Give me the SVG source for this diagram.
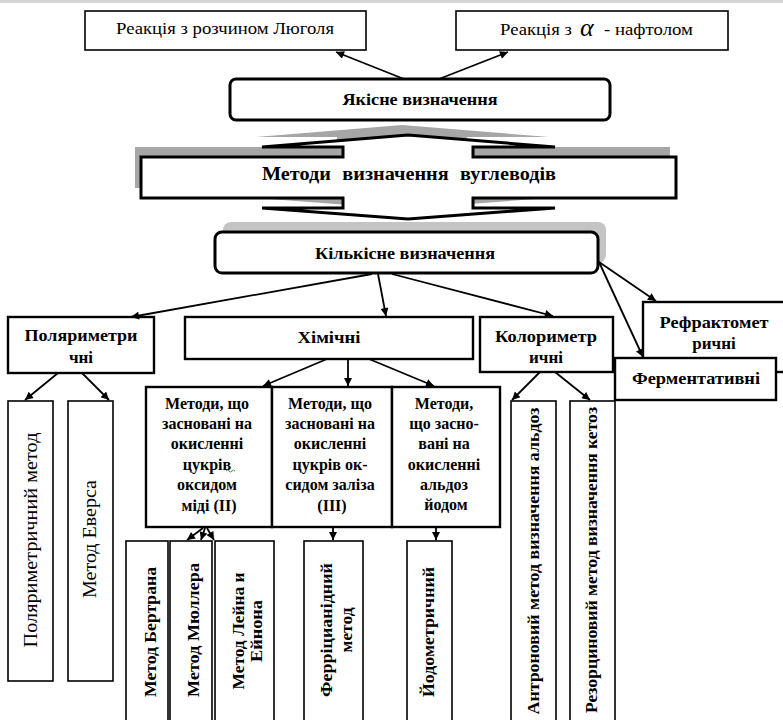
<svg xmlns="http://www.w3.org/2000/svg" width="783" height="720" viewBox="0 0 783 720" font-family="'Liberation Serif', 'DejaVu Serif', serif">
<defs>
<marker id="ah" viewBox="0 0 10 10" refX="10" refY="5" markerWidth="10" markerHeight="8" markerUnits="userSpaceOnUse" orient="auto"><path d="M0,0 L10,5 L0,10 z" fill="#000"/></marker>
<style>
text{font-family:'Liberation Serif','DejaVu Serif',serif;fill:#000}
.b{font-weight:bold}
.box{fill:#fff;stroke:#000;stroke-width:1.6}
.box2{fill:#fff;stroke:#000;stroke-width:2.4}
.c{stroke:#000;stroke-width:1.8;fill:none;marker-end:url(#ah)}
</style>
</defs>
<rect x="0" y="0" width="783" height="720" fill="#fff"/>
<rect x="0" y="0" width="783" height="3" fill="#d4d4d4"/>

<g id="n-lugol">
<rect class="box" x="85" y="11" width="281" height="39"/>
<text x="225" y="34" font-size="17" text-anchor="middle" textLength="218" lengthAdjust="spacingAndGlyphs">Реакція з розчином Люголя</text>
</g>
<g id="n-naphthol">
<rect class="box" x="456" y="11" width="272" height="39"/>
<text x="500" y="35" font-size="16" textLength="72" lengthAdjust="spacingAndGlyphs">Реакція з</text>
<text x="580" y="36" font-size="26" font-style="italic">α</text>
<text x="604" y="35" font-size="16" textLength="89" lengthAdjust="spacingAndGlyphs">- нафтолом</text>
</g>
<g id="n-qual">
<rect x="230" y="79" width="380" height="41" rx="6" fill="#fff" stroke="#000" stroke-width="3"/>
<text class="b" x="420" y="105" font-size="16" text-anchor="middle" textLength="155" lengthAdjust="spacingAndGlyphs">Якісне визначення</text>
</g>
<g id="n-methods">
<path transform="translate(-6,-10)" fill="#a6a6a6" d="M141,157 L343,157 L343,147 L262,147 L408,135 L555,147 L473,147 L473,157 L676,157 L676,198 L473,198 L473,208 L555,208 L408,219 L262,208 L343,208 L343,198 L141,198 Z"/>
<path fill="#fff" stroke="#000" stroke-width="3" stroke-linejoin="miter" d="M141,157 L343,157 L343,147 L262,147 L408,135 L555,147 L473,147 L473,157 L676,157 L676,198 L473,198 L473,208 L555,208 L408,219 L262,208 L343,208 L343,198 L141,198 Z"/>
<text class="b" x="409" y="180" font-size="19" text-anchor="middle" textLength="294" lengthAdjust="spacingAndGlyphs" word-spacing="6">Методи визначення вуглеводів</text>
</g>
<g id="n-quant">
<rect x="223" y="222" width="383" height="41" rx="8" fill="#c4c4c4"/>
<rect x="215" y="232" width="383" height="41" rx="7" fill="#fff" stroke="#000" stroke-width="3"/>
<text class="b" x="405" y="259" font-size="16" text-anchor="middle" textLength="180" lengthAdjust="spacingAndGlyphs">Кількісне визначення</text>
</g>
<g id="n-polar">
<rect class="box2" x="8" y="317" width="146" height="56"/>
<text class="b" x="81" y="341" font-size="17" text-anchor="middle" textLength="113" lengthAdjust="spacingAndGlyphs">Поляриметри</text>
<text class="b" x="81" y="363" font-size="17" text-anchor="middle">чні</text>
</g>
<g id="n-chem">
<rect class="box2" x="185" y="317" width="288" height="42"/>
<text class="b" x="329" y="343" font-size="17" text-anchor="middle" textLength="63" lengthAdjust="spacingAndGlyphs">Хімічні</text>
</g>
<g id="n-color">
<rect class="box2" x="480" y="317" width="133" height="55"/>
<text class="b" x="546" y="342" font-size="17" text-anchor="middle" textLength="102" lengthAdjust="spacingAndGlyphs">Колориметр</text>
<text class="b" x="546" y="363" font-size="17" text-anchor="middle">ичні</text>
</g>
<g id="n-refr">
<rect class="box2" x="643" y="302" width="145" height="70"/>
<text class="b" x="714" y="328" font-size="17" text-anchor="middle" textLength="109" lengthAdjust="spacingAndGlyphs">Рефрактомет</text>
<text class="b" x="714" y="349" font-size="17" text-anchor="middle">ричні</text>
</g>
<g id="n-ferm">
<rect class="box2" x="615" y="358" width="161" height="42"/>
<text class="b" x="696" y="384" font-size="17" text-anchor="middle" textLength="128" lengthAdjust="spacingAndGlyphs">Ферментативні</text>
</g>

<g id="n-cu">
<rect class="box2" x="146" y="387" width="126" height="140"/>
<text class="b" font-size="16" text-anchor="middle">
<tspan x="209" y="409">Методи, що</tspan>
<tspan x="209" y="429">засновані на</tspan>
<tspan x="209" y="449">окисленні</tspan>
<tspan x="209" y="470">цукрів</tspan>
<tspan x="209" y="490">оксидом</tspan>
<tspan x="209" y="511">міді (ІІ)</tspan>
</text>
<path d="M226,471 q1.5,-2 3,0 t3,0 t3,0" fill="none" stroke="#3a9a3a" stroke-width="1"/>
</g>
<g id="n-fe">
<rect class="box2" x="272" y="387" width="120" height="140"/>
<text class="b" font-size="16" text-anchor="middle">
<tspan x="332" y="409">Методи, що</tspan>
<tspan x="332" y="429">засновані на</tspan>
<tspan x="332" y="449">окисленні</tspan>
<tspan x="332" y="470">цукрів ок-</tspan>
<tspan x="332" y="490">сидом заліза</tspan>
<tspan x="332" y="511">(ІІІ)</tspan>
</text>
</g>
<g id="n-iod">
<rect class="box2" x="392" y="387" width="108" height="140"/>
<text class="b" font-size="16" text-anchor="middle">
<tspan x="446" y="409">Методи,</tspan>
<tspan x="446" y="429">що засно-</tspan>
<tspan x="446" y="449">вані на</tspan>
<tspan x="446" y="470">окисленні</tspan>
<tspan x="446" y="490">альдоз</tspan>
<tspan x="446" y="510">йодом</tspan>
</text>
</g>

<g id="n-polmethod">
<rect class="box" x="8" y="401" width="45" height="280"/>
<text font-size="19" text-anchor="middle" transform="translate(37,540) rotate(-90)" textLength="215" lengthAdjust="spacingAndGlyphs">Поляриметричний метод</text>
</g>
<g id="n-evers">
<rect class="box" x="68" y="401" width="45" height="280"/>
<text font-size="19" text-anchor="middle" transform="translate(96,539) rotate(-90)" textLength="118" lengthAdjust="spacingAndGlyphs">Метод Еверса</text>
</g>
<g id="n-bertran">
<rect class="box" x="126" y="541" width="42" height="185"/>
<text class="b" font-size="16" text-anchor="middle" transform="translate(156,632) rotate(-90)" textLength="130" lengthAdjust="spacingAndGlyphs">Метод Бертрана</text>
</g>
<g id="n-muller">
<rect class="box" x="170" y="541" width="42" height="185"/>
<text class="b" font-size="16" text-anchor="middle" transform="translate(199,630) rotate(-90)" textLength="134" lengthAdjust="spacingAndGlyphs">Метод  Мюллера</text>
</g>
<g id="n-lane">
<rect class="box" x="215" y="541" width="59" height="185"/>
<text class="b" font-size="16" text-anchor="middle" transform="translate(244,631) rotate(-90)" textLength="117" lengthAdjust="spacingAndGlyphs">Метод Лейна и</text>
<text class="b" font-size="16" text-anchor="middle" transform="translate(262,631) rotate(-90)" textLength="62" lengthAdjust="spacingAndGlyphs">Ейнона</text>
</g>
<g id="n-ferricyan">
<rect class="box" x="304" y="541" width="59" height="185"/>
<text class="b" font-size="16" text-anchor="middle" transform="translate(332,630) rotate(-90)" textLength="134" lengthAdjust="spacingAndGlyphs">Ферріцианідний</text>
<text class="b" font-size="16" text-anchor="middle" transform="translate(352,630) rotate(-90)" textLength="45" lengthAdjust="spacingAndGlyphs">метод</text>
</g>
<g id="n-iodometric">
<rect class="box" x="407" y="541" width="45" height="185"/>
<text class="b" font-size="16" text-anchor="middle" transform="translate(434,632) rotate(-90)" textLength="130" lengthAdjust="spacingAndGlyphs">Йодометричний</text>
</g>
<g id="n-anthrone">
<rect class="box" x="511" y="401" width="45" height="325"/>
<text class="b" font-size="16" text-anchor="middle" transform="translate(539,561) rotate(-90)" textLength="307" lengthAdjust="spacingAndGlyphs">Антроновий метод визначення альдоз</text>
</g>
<g id="n-resorcin">
<rect class="box" x="570" y="401" width="45" height="325"/>
<text class="b" font-size="16" text-anchor="middle" transform="translate(597,560) rotate(-90)" textLength="306" lengthAdjust="spacingAndGlyphs">Резорциновий метод визначення кетоз</text>
</g>

<g id="connectors">
<line class="c" x1="404" y1="79" x2="336" y2="52"/>
<line class="c" x1="439" y1="79" x2="508" y2="52"/>
<line class="c" x1="372" y1="274" x2="131" y2="317"/>
<line class="c" x1="378" y1="274" x2="386" y2="316"/>
<line class="c" x1="392" y1="274" x2="553" y2="316"/>
<line class="c" x1="599" y1="262" x2="656" y2="301"/>
<line class="c" x1="599" y1="262" x2="643" y2="357"/>
<line class="c" x1="58" y1="373" x2="25" y2="400"/>
<line class="c" x1="82" y1="373" x2="109" y2="400"/>
<line class="c" x1="327" y1="359" x2="263" y2="386"/>
<line class="c" x1="348" y1="359" x2="348" y2="386"/>
<line class="c" x1="369" y1="359" x2="434" y2="386"/>
<line class="c" x1="203" y1="528" x2="187" y2="540"/>
<line class="c" x1="205" y1="528" x2="201" y2="540"/>
<line class="c" x1="207" y1="528" x2="214" y2="540"/>
<line class="c" x1="333" y1="528" x2="333" y2="540"/>
<line class="c" x1="436" y1="528" x2="436" y2="540"/>
<line class="c" x1="540" y1="372" x2="512" y2="400"/>
<line class="c" x1="555" y1="372" x2="590" y2="400"/>
</g>
</svg>
